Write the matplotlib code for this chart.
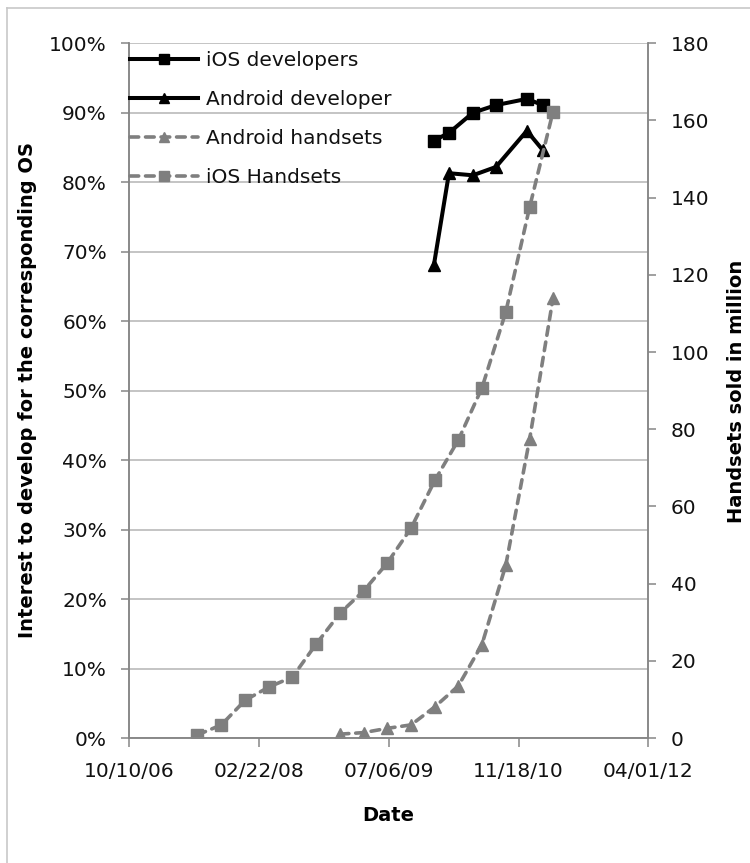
import matplotlib
matplotlib.use("Agg")
import matplotlib.pyplot as plt
import matplotlib.dates as mdates
from matplotlib.lines import Line2D
from matplotlib.ticker import FixedLocator, FuncFormatter
import numpy as np
import datetime as dt

# ---------------- data ----------------
ios_handset_dates = ["2007-06-30", "2007-09-30", "2007-12-31", "2008-03-31",
                     "2008-06-30", "2008-09-30", "2008-12-31", "2009-03-31",
                     "2009-06-30", "2009-09-30", "2009-12-31", "2010-03-31",
                     "2010-06-30", "2010-09-30", "2010-12-31", "2011-03-31"]
ios_handsets = [0.8, 3.4, 9.8, 13.2, 15.8, 24.4, 32.4, 38.1,
                45.3, 54.4, 66.8, 77.2, 90.7, 110.4, 137.6, 162.3]

android_handset_dates = ["2008-12-31", "2009-03-31", "2009-06-30", "2009-09-30",
                         "2009-12-31", "2010-03-31", "2010-06-30", "2010-09-30",
                         "2010-12-31", "2011-03-31"]
android_handsets = [1.0, 1.4, 2.5, 3.4, 8.1, 13.5, 24.2, 44.8, 77.5, 114.0]

dev_dates = ["2009-12-27", "2010-02-23", "2010-05-26", "2010-08-23",
             "2010-12-20", "2011-02-20"]
ios_developers = [0.860, 0.871, 0.900, 0.911, 0.920, 0.911]
android_developers = [0.681, 0.813, 0.810, 0.822, 0.874, 0.846]

x_tick_labels = ["10/10/06", "02/22/08", "07/06/09", "11/18/10", "04/01/12"]
left_ticks = [0, 0.1, 0.2, 0.3, 0.4, 0.5, 0.6, 0.7, 0.8, 0.9, 1.0]
right_ticks = [0, 20, 40, 60, 80, 100, 120, 140, 160, 180]

labels = ["iOS developers", "Android developer", "Android handsets", "iOS Handsets"]

# ---------------- helpers ----------------
def to_num(ds):
    return [mdates.date2num(dt.datetime.strptime(d, "%Y-%m-%d")) for d in ds]

def tick_num(s):
    return mdates.date2num(dt.datetime.strptime(s, "%m/%d/%y"))

W, H = 750, 863
fig = plt.figure(figsize=(W / 100, H / 100), dpi=100)
fig.patch.set_facecolor("white")

L, R, B, T = 129.2, 648.3, 738.0, 43.3
ax = fig.add_axes([L / W, 1 - B / H, (R - L) / W, (B - T) / H])
ax2 = ax.twinx()

grey_sp = "#868686"
black = "#000000"
grey = "#7f7f7f"

# left axis series
ax.plot(to_num(dev_dates), ios_developers, color=black, lw=2.9, marker="s",
        ms=8, solid_joinstyle="round", label=labels[0], zorder=3)
ax.plot(to_num(dev_dates), android_developers, color=black, lw=2.9, marker="^",
        ms=8.5, solid_joinstyle="round", label=labels[1], zorder=3)

# right axis series
dash = (0, (2.4, 1.9))
l3, = ax2.plot(to_num(android_handset_dates), android_handsets, color=grey, lw=2.6,
               ls=dash, dash_capstyle="round", marker="^", ms=9, label=labels[2])
l4, = ax2.plot(to_num(ios_handset_dates), ios_handsets, color=grey, lw=2.6,
               ls=dash, dash_capstyle="round", marker="s", ms=8.5, label=labels[3])

# axes limits & ticks
xt = [tick_num(s) for s in x_tick_labels]
ax.set_xlim(xt[0], xt[-1])
ax.xaxis.set_major_locator(FixedLocator(xt))
ax.set_xticklabels(x_tick_labels)
ax.set_ylim(0, 1.0)
ax.set_yticks(left_ticks)
ax.yaxis.set_major_formatter(FuncFormatter(lambda v, p: f"{v*100:.0f}%"))
ax2.set_ylim(0, 180)
ax2.set_yticks(right_ticks)

ax.grid(axis="y", color="#b4b4b4", lw=1.1)
ax.set_axisbelow(True)

for a in (ax, ax2):
    a.spines["top"].set_visible(False)
    for s in ("left", "right", "bottom"):
        a.spines[s].set_color(grey_sp)
        a.spines[s].set_linewidth(1.1)
    a.set_facecolor("none")

ax.tick_params(axis="both", direction="out", length=6, width=1.1, color=grey_sp,
               labelsize=14.5, labelcolor="#111111", pad=10)
ax.tick_params(axis="x", length=6.5, pad=11)
ax2.tick_params(axis="y", direction="out", length=6, width=1.1, color=grey_sp,
                labelsize=14.5, labelcolor="#111111", pad=10)

# axis titles
fig.text(28 / W, 1 - 390 / H, "Interest to develop for the corresponding OS",
         rotation=90, ha="center", va="center", fontsize=14, fontweight="bold",
         family="DejaVu Sans")
fig.text(737 / W, 1 - 391 / H, "Handsets sold in million",
         rotation=90, ha="center", va="center", fontsize=14, fontweight="bold",
         family="DejaVu Sans")
fig.text(388 / W, 1 - 815 / H, "Date", ha="center", va="center", fontsize=14,
         fontweight="bold", family="DejaVu Sans")

# legend
h1, lab1 = ax.get_legend_handles_labels()
handles = h1 + [l3, l4]
leg = ax2.legend(handles, labels, loc="upper left",
                 bbox_to_anchor=(130 / W, 1 - 51 / H), bbox_transform=fig.transFigure,
                 frameon=False, fontsize=14.5, handlelength=3.4, handletextpad=0.35,
                 labelspacing=1.0, borderpad=0, borderaxespad=0, markerscale=0.85)
for t in leg.get_texts():
    t.set_color("#111111")

# chart border
fig.add_artist(Line2D([7 / W, 7 / W], [1 - 8 / H, 0], transform=fig.transFigure,
                      color="#c8c8c8", lw=1.2))
fig.add_artist(Line2D([7 / W, 1], [1 - 8 / H, 1 - 8 / H], transform=fig.transFigure,
                      color="#c8c8c8", lw=1.2))

fig.savefig("out.png", dpi=100)
